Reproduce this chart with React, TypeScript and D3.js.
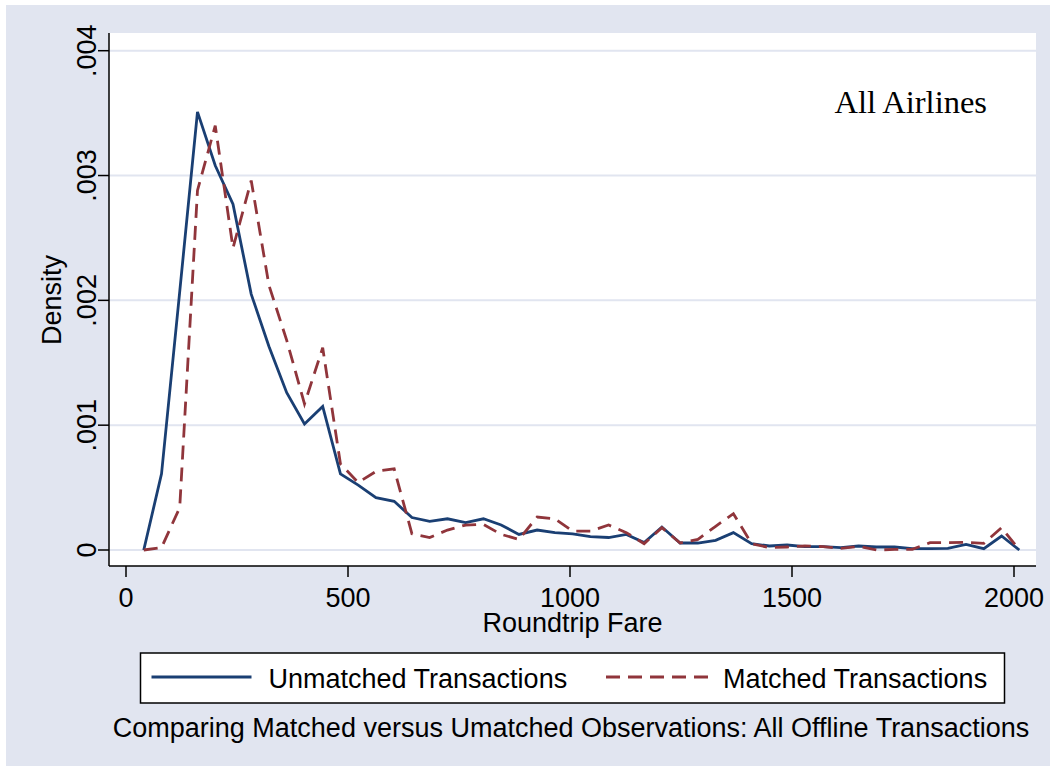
import React from "react";
import * as d3 from "d3";

// fare bins (x) and density values
const fares = [
  40, 80, 121, 161, 201, 241, 282, 322, 362, 402, 443, 483, 523, 563, 604, 644,
  684, 724, 765, 805, 845, 885, 926, 966, 1006, 1046, 1087, 1127, 1167, 1207,
  1248, 1288, 1328, 1368, 1409, 1449, 1489, 1529, 1570, 1610, 1650, 1690, 1731,
  1771, 1811, 1851, 1892, 1932, 1972, 2012,
];

const unmatched = [
  0, 0.00061, 0.00207, 0.00351, 0.00308, 0.00277, 0.00205, 0.00163, 0.00126,
  0.00101, 0.00115, 0.00061, 0.00052, 0.00042, 0.00039, 0.00026, 0.00023,
  0.00025, 0.00022, 0.00025, 0.0002, 0.000125, 0.00016, 0.00014, 0.00013,
  0.000107, 0.0001, 0.000125, 0.000059, 0.000184, 0.000056, 0.000056, 0.000077,
  0.000139, 0.000051, 0.000032, 0.00004, 0.000027, 0.000027, 0.000019, 0.000032,
  0.000024, 0.000024, 0.000011, 0.000011, 0.000013, 0.000045, 0.000011,
  0.000112, 0,
];

const matched = [
  0, 0.00002, 0.00034, 0.00288, 0.0034, 0.00242, 0.00296, 0.00212, 0.00168,
  0.00117, 0.00162, 0.00069, 0.00054, 0.00063, 0.00065, 0.00013, 0.0001,
  0.00016, 0.0002, 0.000205, 0.000125, 0.000085, 0.000264, 0.00025, 0.000152,
  0.000152, 0.0002, 0.000139, 0.000051, 0.000179, 0.000056, 0.000085, 0.00019,
  0.000291, 0.000051, 0.000019, 0.000024, 0.000032, 0.000027, 0.000013,
  0.000029, 0, 0.000005, 0.000005, 0.000059, 0.000059, 0.000061, 0.000053,
  0.000179, 0,
];

const xTicks = [0, 500, 1000, 1500, 2000];
const yTicks = [0, 0.001, 0.002, 0.003, 0.004];
const yTickLabels = ["0", ".001", ".002", ".003", ".004"];

const BG = "#e1e5f0";
const BLUE = "#1a3f73";
const RED = "#90353b";
const SANS = "'Liberation Sans', Arial, sans-serif";
const FS = 27;

const App = () => {
  const width = 1050;
  const height = 771;
  const plot = { left: 109, right: 1036, top: 33, bottom: 566 };

  const x = d3.scaleLinear().domain([0, 2000]).range([126, 1014]);
  const y = d3.scaleLinear().domain([0, 0.004]).range([550, 50.7]);

  const line = d3
    .line<number>()
    .x((d, i) => x(fares[i]))
    .y((d) => y(d));

  return (
    <svg
      width={width}
      height={height}
      style={{ position: "absolute", left: 0, top: 0, display: "block" }}
    >
      <rect x={0} y={0} width={width} height={height} fill="#ffffff" />
      <rect x={6} y={5} width={width - 6} height={761} fill={BG} />
      <rect
        x={plot.left}
        y={plot.top}
        width={plot.right - plot.left}
        height={plot.bottom - plot.top}
        fill="#ffffff"
      />

      {/* grid */}
      {yTicks.map((t) => (
        <line
          key={"g" + t}
          x1={plot.left}
          x2={plot.right}
          y1={y(t)}
          y2={y(t)}
          stroke={BG}
          strokeWidth={2}
        />
      ))}

      {/* series */}
      <path
        d={line(unmatched) || ""}
        fill="none"
        stroke={BLUE}
        strokeWidth={2.8}
      />
      <path
        d={line(matched) || ""}
        fill="none"
        stroke={RED}
        strokeWidth={2.8}
        strokeDasharray="14,8"
      />

      {/* axes */}
      <line x1={plot.left} x2={plot.left} y1={plot.top} y2={plot.bottom} stroke="#000" strokeWidth={1.5} />
      <line x1={plot.left} x2={plot.right} y1={plot.bottom} y2={plot.bottom} stroke="#000" strokeWidth={1.5} />

      {yTicks.map((t, i) => (
        <g key={"y" + t}>
          <line x1={98} x2={plot.left} y1={y(t)} y2={y(t)} stroke="#000" strokeWidth={1.5} />
          <text
            transform={`translate(96,${y(t)}) rotate(-90)`}
            textAnchor="middle"
            fontFamily={SANS}
            fontSize={FS}
            fill="#000"
          >
            {yTickLabels[i]}
          </text>
        </g>
      ))}

      {xTicks.map((t) => (
        <g key={"x" + t}>
          <line x1={x(t)} x2={x(t)} y1={plot.bottom} y2={577} stroke="#000" strokeWidth={1.5} />
          <text x={x(t)} y={607} textAnchor="middle" fontFamily={SANS} fontSize={FS} fill="#000">
            {t}
          </text>
        </g>
      ))}

      <text
        transform="translate(61,300) rotate(-90)"
        textAnchor="middle"
        fontFamily={SANS}
        fontSize={FS}
        fill="#000"
      >
        Density
      </text>
      <text x={572.5} y={632} textAnchor="middle" fontFamily={SANS} fontSize={FS} fill="#000">
        Roundtrip Fare
      </text>

      <text
        x={987}
        y={113}
        textAnchor="end"
        fontFamily="'Liberation Serif', 'Times New Roman', serif"
        fontSize={32.5}
        fill="#000"
      >
        All Airlines
      </text>

      {/* legend */}
      <rect x={140.5} y={653} width={864} height={50} fill="#ffffff" stroke="#000" strokeWidth={1.5} />
      <line x1={151.5} x2={251.5} y1={677} y2={677} stroke={BLUE} strokeWidth={2.8} />
      <text x={268.5} y={688} fontFamily={SANS} fontSize={FS} fill="#000">
        Unmatched Transactions
      </text>
      <line x1={606} x2={709} y1={677} y2={677} stroke={RED} strokeWidth={2.8} strokeDasharray="14,8" />
      <text x={723} y={688} fontFamily={SANS} fontSize={FS} fill="#000">
        Matched Transactions
      </text>

      <text x={571} y={737} textAnchor="middle" fontFamily={SANS} fontSize={FS} fill="#000">
        Comparing Matched versus Umatched Observations: All Offline Transactions
      </text>
    </svg>
  );
};

export default App;
